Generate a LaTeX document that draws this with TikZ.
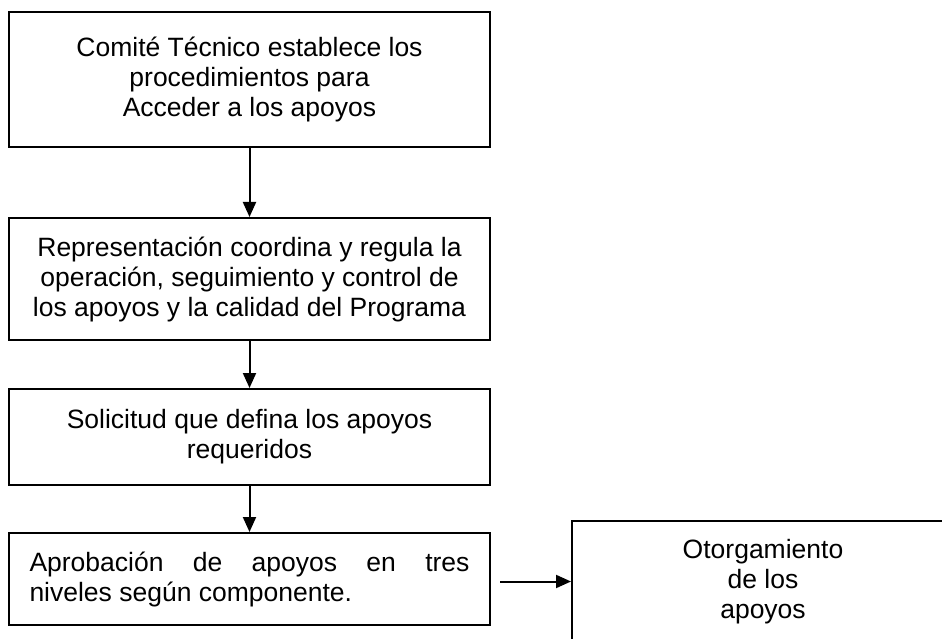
\documentclass[tikz,border=0pt]{standalone}
\usepackage{fontspec}
\setmainfont{Liberation Sans}
\usetikzlibrary{arrows.meta}
\begin{document}
\begin{tikzpicture}[x=1pt,y=-1pt,
  box/.style={draw=black, line width=2pt, inner sep=0pt, align=center,
    font=\fontsize{26.5}{30}\selectfont},
  conn/.style={line width=2pt, -{Triangle[width=13pt,length=15pt]}}]
\useasboundingbox (0,0) rectangle (942,639);
\clip (0,0) rectangle (942,639);
\node[box, minimum width=481pt, minimum height=135pt] (b1) at (249.5,79.5)
  {Comité Técnico establece los\\procedimientos para\\Acceder a los apoyos};
\node[box, minimum width=481pt, minimum height=122pt] (b2) at (249.5,279)
  {Representación coordina y regula la\\operación, seguimiento y control de\\los apoyos y la calidad del Programa};
\node[box, minimum width=481pt, minimum height=96pt] (b3) at (249.5,437)
  {Solicitud que defina los apoyos\\requeridos};
\node[box, minimum width=481pt, minimum height=92pt, text width=440pt, align=justify] (b4) at (249.5,579)
  {Aprobación de apoyos en tres\linebreak niveles según componente.};
\node[box, minimum width=382pt, minimum height=121pt] (b5) at (763,581.5)
  {Otorgamiento\\de los\\apoyos};
\draw[conn] (b1.south) -- (b2.north);
\draw[conn] (b2.south) -- (b3.north);
\draw[conn] (b3.south) -- (b4.north);
\coordinate (h0) at ([xshift=9pt]b4.east |- b5.west);
\draw[conn] (h0) -- (b5.west);
\end{tikzpicture}
\end{document}
